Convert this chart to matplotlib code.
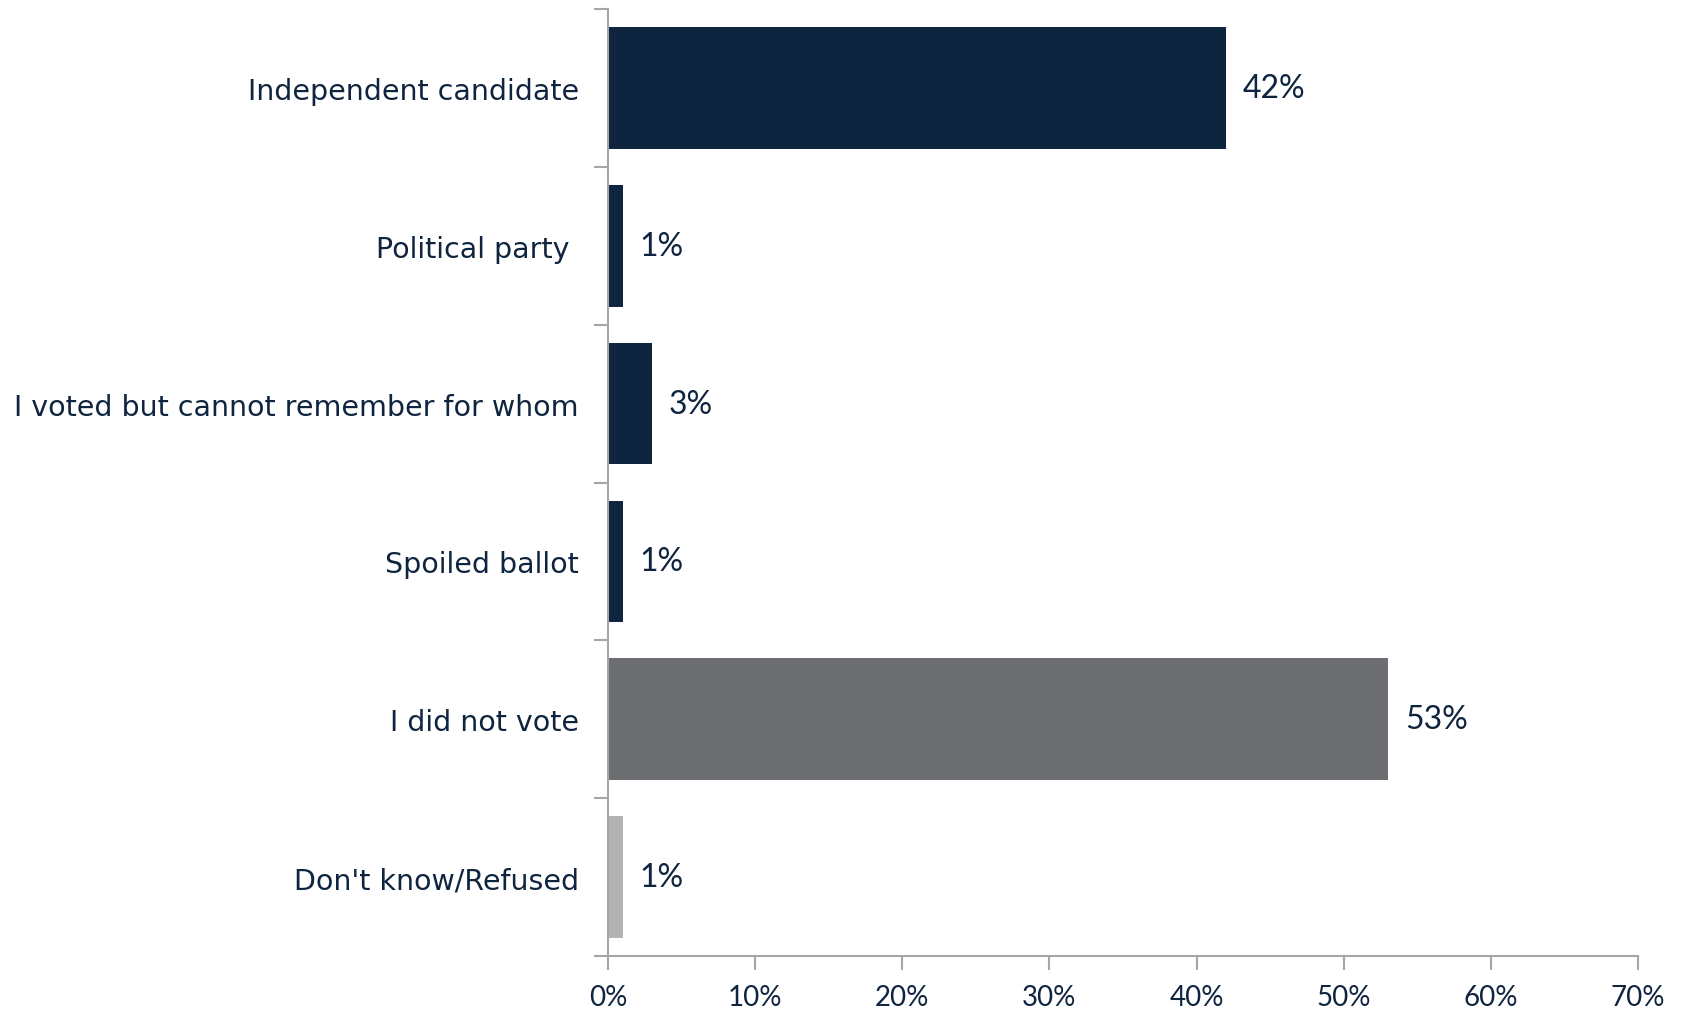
import matplotlib.pyplot as plt
import numpy as np

categories = ["Independent candidate", "Political party ", "I voted but cannot remember for whom",
              "Spoiled ballot", "I did not vote", "Don't know/Refused"]
values = [42, 1, 3, 1, 53, 1]
colors = ["#0f243e", "#0f243e", "#0f243e", "#0f243e", "#6d6e71", "#b3b3b3"]
x_ticks = [0, 10, 20, 30, 40, 50, 60, 70]
x_labels = [f"{t}%" for t in x_ticks]

navy = "#0f243e"
axis_gray = "#a6a6a8"

fig = plt.figure(figsize=(16.83, 10.12), dpi=100)
ax = fig.add_axes([608 / 1683, 1 - 957 / 1012, (1638 - 608) / 1683, (957 - 10) / 1012])

y = np.arange(len(categories))
ax.barh(y, values, height=0.77, color=colors)
ax.set_ylim(len(categories) - 0.5, -0.5)
ax.set_xlim(0, 70)

# value labels next to the bars
for yi, v in zip(y, values):
    ax.text(v + 1.15, yi, f"{v}%", va="center", ha="left", fontsize=23,
            family="Lato", color=navy)

ax.set_yticks(y)
ax.set_yticklabels(categories, fontsize=20.5, family="DejaVu Sans", color=navy)
ax.set_yticks(np.arange(len(categories) + 1) - 0.5, minor=True)
ax.tick_params(axis="y", which="major", length=0, pad=21)
ax.tick_params(axis="y", which="minor", length=10, width=1.5, color=axis_gray)

ax.set_xticks(x_ticks)
ax.set_xticklabels(x_labels, fontsize=20, family="Lato", color=navy)
ax.tick_params(axis="x", length=10, width=1.5, color=axis_gray, pad=10)

for s in ["top", "right"]:
    ax.spines[s].set_visible(False)
for s in ["left", "bottom"]:
    ax.spines[s].set_color(axis_gray)
    ax.spines[s].set_linewidth(1.5)

fig.savefig("out.png", dpi=100)
